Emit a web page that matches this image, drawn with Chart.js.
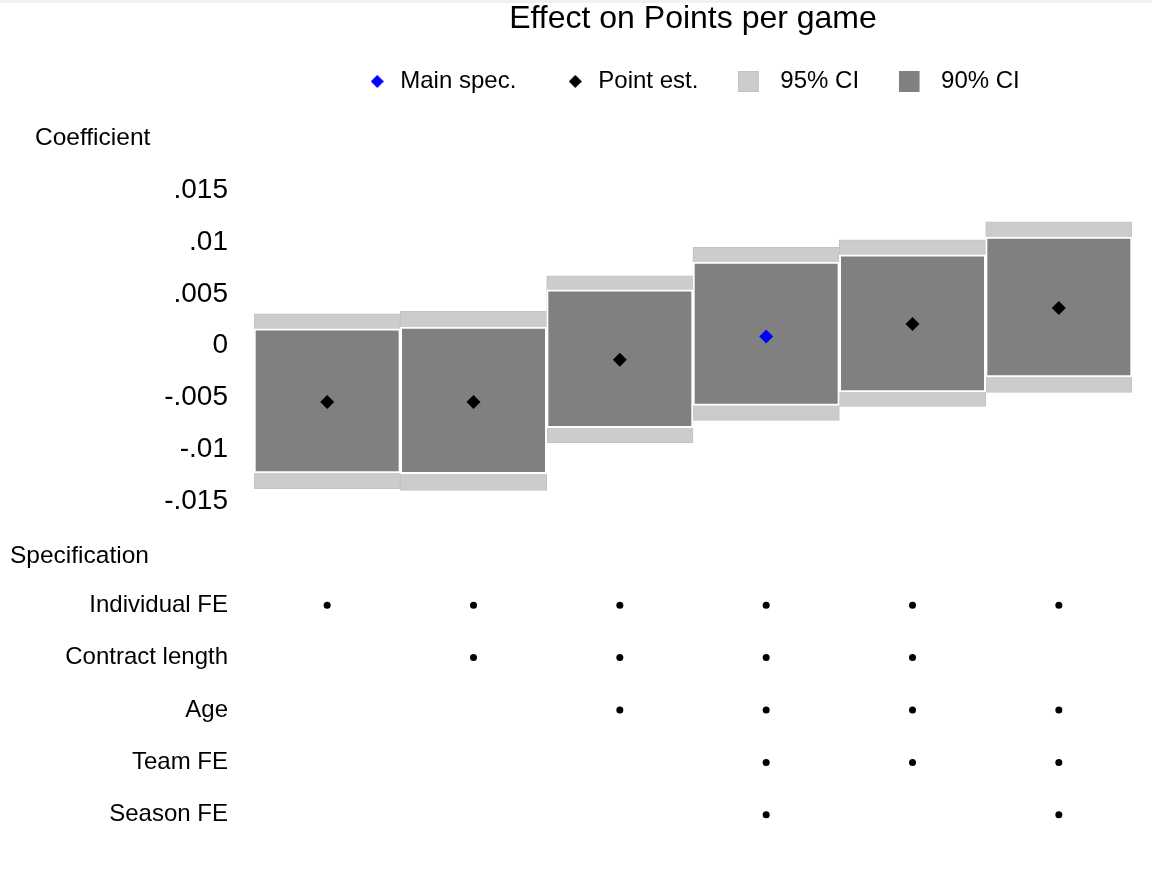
<!DOCTYPE html>
<html>
<head>
<meta charset="utf-8">
<title>Effect on Points per game</title>
<script src="https://cdn.jsdelivr.net/npm/chart.js@4"></script>
<style>
  body { margin: 0; background: #fff; font-family: "Liberation Sans", Arial, sans-serif; }
  .wrap { position: relative; width: 1152px; height: 871px; overflow: hidden; background: #fff; }
  .topline { position: absolute; left: 0; top: 0; width: 1152px; height: 3px; background: #eef2f4; }
  #coefChart { position: absolute; left: 0; top: 0; }
  #specChart { position: absolute; left: 0; top: 525px; }
  .axis-note { position: absolute; font-size: 24.5px; line-height: 24px; color: #000; }
</style>
</head>
<body>
<div class="wrap">
  <canvas id="coefChart" width="1152" height="525"></canvas>
  <canvas id="specChart" width="1152" height="346"></canvas>
  <div class="axis-note" style="left:35px; top:125px;">Coefficient</div>
  <div class="axis-note" style="left:10px; top:543px;">Specification</div>
  <div class="topline"></div>
</div>

<script>
// Estimates for each specification
const models = ['1', '2', '3', '4', '5', '6'];
const pointEst = [-0.00543, -0.00543, -0.00135, 0.0009, 0.0021, 0.00364];
const ci90Low = [-0.01229, -0.01236, -0.00792, -0.00576, -0.00447, -0.00302];
const ci90High = [0.00164, 0.0018, 0.0054, 0.00808, 0.00878, 0.01049];
const ci95Low = [-0.0138, -0.01397, -0.00936, -0.00721, -0.00586, -0.00451];
const ci95High = [0.00309, 0.00331, 0.00676, 0.00949, 0.01023, 0.01197];
const mainSpec = 3; // index of the main specification

const yTicks = [-0.015, -0.01, -0.005, 0, 0.005, 0.01, 0.015];

// Controls included in each specification
const specLabels = ['Individual FE', 'Contract length', 'Age', 'Team FE', 'Season FE'];
const individualFE = [1, 1, 1, 1, 1, 1];
const contractLength = [0, 1, 1, 1, 1, 0];
const age = [0, 0, 1, 1, 1, 1];
const teamFE = [0, 0, 0, 1, 1, 1];
const seasonFE = [0, 0, 0, 1, 0, 1];

const fontFamily = "'Liberation Sans', Arial, sans-serif";
Chart.defaults.font.family = fontFamily;
Chart.defaults.color = '#000';

// Stata style tick labels: .01 instead of 0.01
function fmtTick(v) {
    let s = String(Math.round(v * 1000) / 1000);
    return s.replace(/^(-?)0\./, '$1.');
}

// Small canvases used as legend symbols
function diamondIcon(color) {
    let c = document.createElement('canvas');
    c.width = 13; c.height = 13;
    let ctx = c.getContext('2d');
    ctx.fillStyle = color;
    ctx.beginPath();
    ctx.moveTo(0, 6.5); ctx.lineTo(6.5, 0); ctx.lineTo(13, 6.5); ctx.lineTo(6.5, 13);
    ctx.closePath();
    ctx.fill();
    return c;
}
// square sits at the left of a wider canvas so it ends up further from its text
function squareIcon(fill, stroke) {
    let c = document.createElement('canvas');
    c.width = 39; c.height = 21;
    let ctx = c.getContext('2d');
    ctx.fillStyle = fill;
    ctx.fillRect(0, 0, 21, 21);
    ctx.strokeStyle = stroke;
    ctx.strokeRect(0.5, 0.5, 20, 20);
    return c;
}
const legendIcons = [diamondIcon('#0000ff'), diamondIcon('#000000'),
    squareIcon('#cccccc', '#c2c2c2'), squareIcon('#808080', '#808080')];

// Push the plot down below the legend
const legendGap = {
    id: 'legendGap',
    beforeInit(chart) {
        const fit = chart.legend.fit;
        chart.legend.fit = function () {
            fit.call(this);
            this.height = 169;
        };
    }
};

const leftAxisWidth = 254;

// fixed axis width, and no extra space above/below for the end labels
function fixLeftAxis(axis) {
    axis.width = leftAxisWidth;
    axis.paddingTop = 0;
    axis.paddingBottom = 0;
}

new Chart(document.getElementById('coefChart'), {
    type: 'bar',
    data: {
        labels: models,
        datasets: [
            {
                type: 'line',
                label: 'Main spec.',
                data: pointEst.map((v, i) => i === mainSpec ? v : null),
                showLine: false,
                pointStyle: 'rectRot',
                pointRadius: 7,
                pointBackgroundColor: '#0000ff',
                pointBorderColor: '#0000ff',
                pointBorderWidth: 0,
                order: 0
            },
            {
                type: 'line',
                label: 'Point est.',
                data: pointEst.map((v, i) => i === mainSpec ? null : v),
                showLine: false,
                pointStyle: 'rectRot',
                pointRadius: 7,
                pointBackgroundColor: '#000000',
                pointBorderColor: '#000000',
                pointBorderWidth: 0,
                order: 1
            },
            {
                label: '95% CI',
                data: models.map((m, i) => [ci95Low[i], ci95High[i]]),
                backgroundColor: '#cccccc',
                borderColor: '#c2c2c2',
                borderWidth: 1,
                borderSkipped: false,
                barPercentage: 1,
                categoryPercentage: 1,
                grouped: false,
                order: 3
            },
            {
                label: '90% CI',
                data: models.map((m, i) => [ci90Low[i], ci90High[i]]),
                backgroundColor: '#808080',
                borderColor: '#ffffff',
                borderWidth: 2,
                borderSkipped: false,
                barPercentage: 1,
                categoryPercentage: 1,
                grouped: false,
                order: 2
            }
        ]
    },
    options: {
        responsive: false,
        animation: false,
        layout: { padding: { left: 0, right: 20, top: 0, bottom: 24 } },
        scales: {
            x: { display: false, offset: true },
            y: {
                min: -0.015,
                max: 0.015,
                grid: { display: false, drawTicks: false },
                border: { display: false },
                ticks: { font: { size: 28 }, color: '#000', padding: 26, callback: fmtTick },
                afterBuildTicks: axis => { axis.ticks = yTicks.map(v => ({ value: v })); },
                afterFit: fixLeftAxis
            }
        },
        plugins: {
            title: {
                display: true,
                text: 'Effect on Points per game',
                fullSize: false,
                color: '#000',
                font: { size: 32, weight: 'normal' },
                padding: { top: 0, bottom: -17 }
            },
            legend: {
                fullSize: false,
                labels: {
                    usePointStyle: true,
                    boxWidth: 22,
                    padding: 48,
                    color: '#000',
                    font: { size: 24 },
                    sort: (a, b) => a.datasetIndex - b.datasetIndex,
                    generateLabels: chart => {
                        let items = Chart.defaults.plugins.legend.labels.generateLabels(chart);
                        items.forEach(it => { it.pointStyle = legendIcons[it.datasetIndex]; });
                        return items;
                    }
                }
            },
            tooltip: { enabled: false }
        }
    },
    plugins: [legendGap]
});

// Dots marking which controls are in each specification
const specRows = [individualFE, contractLength, age, teamFE, seasonFE];
const specPoints = [];
specRows.forEach((row, r) => {
    row.forEach((on, c) => {
        if (on) specPoints.push({ x: models[c], y: specLabels[r] });
    });
});

new Chart(document.getElementById('specChart'), {
    type: 'line',
    data: {
        labels: models,
        datasets: [{
            data: specPoints,
            showLine: false,
            pointRadius: 3.5,
            pointBackgroundColor: '#000',
            pointBorderWidth: 0
        }]
    },
    options: {
        responsive: false,
        animation: false,
        layout: { padding: { left: 0, right: 20, top: 54, bottom: 30 } },
        scales: {
            x: { type: 'category', labels: models, offset: true, display: false },
            y: {
                type: 'category',
                labels: specLabels,
                offset: true,
                grid: { display: false, drawTicks: false },
                border: { display: false },
                ticks: { font: { size: 24 }, color: '#000', padding: 26 },
                afterFit: fixLeftAxis
            }
        },
        plugins: {
            legend: { display: false },
            tooltip: { enabled: false }
        }
    }
});
</script>
</body>
</html>
